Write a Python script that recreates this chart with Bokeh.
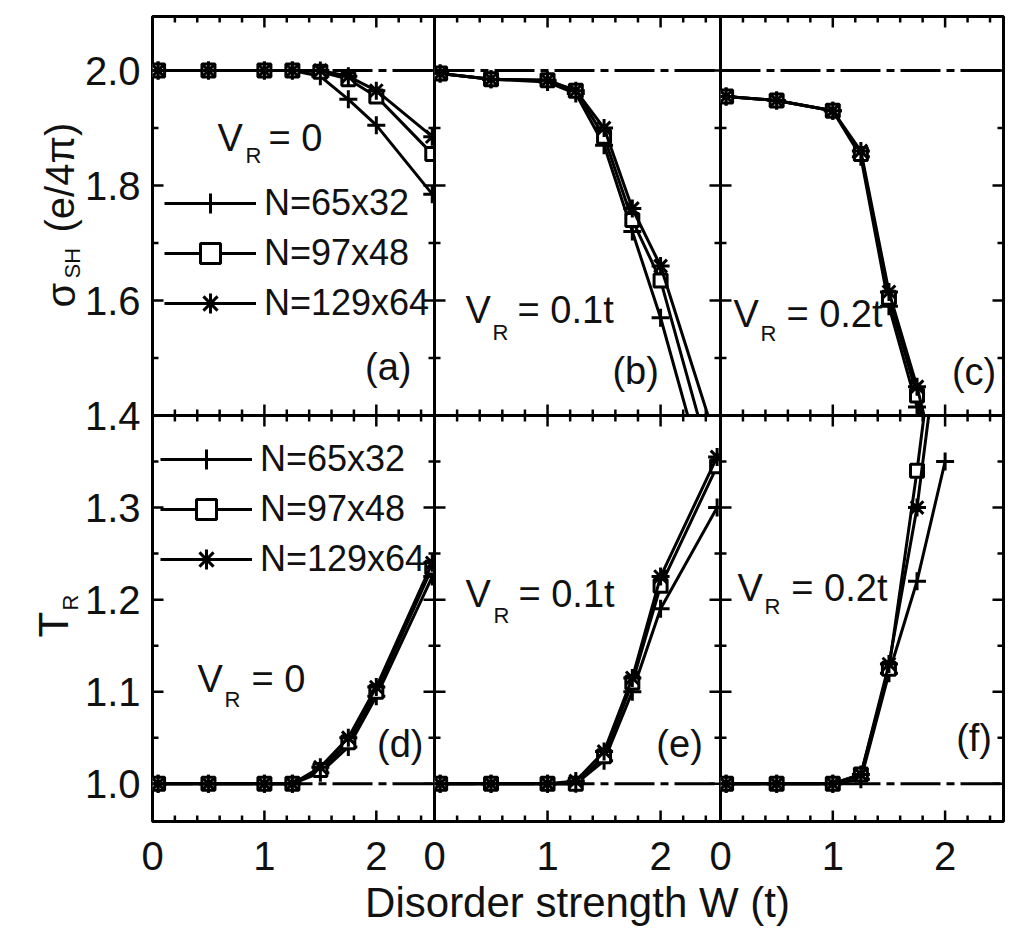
import math
from bokeh.plotting import figure
from bokeh.models import (Range1d, LinearAxis, FixedTicker, NumeralTickFormatter,
                          Span, Label, Legend, LegendItem)
from bokeh.layouts import column
from bokeh.embed import file_html
from bokeh.resources import INLINE

FONT = "Liberation Sans"
TXT_COLOR = "#111111"

# ---------------- data ----------------
W = [0.05, 0.5, 1.0, 1.25, 1.5, 1.75, 2.0, 2.5]
W_short = [0.05, 0.5, 1.0, 1.25, 1.5, 1.75, 2.0]
series_labels = ["N=65x32", "N=97x48", "N=129x64"]

# sigma_SH (e/4pi)
sig_a_65 = [2.0, 2.0, 2.0, 2.0, 1.99, 1.95, 1.905, 1.785]
sig_a_97 = [2.0, 2.0, 2.0, 2.0, 1.998, 1.985, 1.955, 1.855]
sig_a_129 = [2.0, 2.0, 2.0, 2.0, 2.0, 1.99, 1.965, 1.885]

sig_b_65 = [1.995, 1.985, 1.98, 1.96, 1.87, 1.72, 1.57, 1.216]
sig_b_97 = [1.995, 1.985, 1.983, 1.965, 1.885, 1.74, 1.635, 1.28]
sig_b_129 = [1.995, 1.985, 1.983, 1.965, 1.90, 1.76, 1.66, 1.35]

sig_c_65 = [1.955, 1.948, 1.93, 1.85, 1.59, 1.415, 1.20]
sig_c_97 = [1.955, 1.948, 1.93, 1.855, 1.605, 1.435, 1.22]
sig_c_129 = [1.955, 1.948, 1.93, 1.86, 1.615, 1.45, 1.25]

# T_R
T_d_65 = [1.0, 1.0, 1.0, 1.0, 1.012, 1.04, 1.095, 1.225]
T_d_97 = [1.0, 1.0, 1.0, 1.0, 1.015, 1.045, 1.10, 1.235]
T_d_129 = [1.0, 1.0, 1.0, 1.0, 1.018, 1.05, 1.105, 1.24]

T_e_65 = [1.0, 1.0, 1.0, 1.0, 1.025, 1.10, 1.19, 1.30]
T_e_97 = [1.0, 1.0, 1.0, 1.0, 1.03, 1.11, 1.215, 1.345]
T_e_129 = [1.0, 1.0, 1.0, 1.003, 1.035, 1.115, 1.225, 1.355]

T_f_65 = [1.0, 1.0, 1.0, 1.005, 1.12, 1.22, 1.35]
T_f_97 = [1.0, 1.0, 1.0, 1.01, 1.125, 1.34, 1.58]
T_f_129 = [1.0, 1.0, 1.0, 1.01, 1.13, 1.30, 1.54]

X_TICKS = [0, 1, 2]
X_MINOR = [0.2, 0.4, 0.6, 0.8, 1.2, 1.4, 1.6, 1.8, 2.2, 2.4]
SIG_TICKS = [1.4, 1.6, 1.8, 2.0]
SIG_MINOR = [1.5, 1.7, 1.9]
T_TICKS = [1.0, 1.1, 1.2, 1.3]
T_MINOR = [1.05, 1.15, 1.25, 1.35]

# ---------------- layout geometry (canvas px) ----------------
CW, CH = 1016, 933
COLS = [(152, 434, 2.52), (434, 720, 2.53), (720, 1003, 2.52)]
ROWS = [(16, 415, 1.4, 2.094), (415, 821, 0.959, 1.4)]
MAJ, MIN = 11, 6


def label_axis(ticks, fmt, standoff):
    # axis used for its tick labels; the inward tick marks are drawn as segments
    return LinearAxis(ticker=FixedTicker(ticks=ticks), formatter=NumeralTickFormatter(format=fmt),
                      major_tick_in=0, major_tick_out=0, minor_tick_in=0, minor_tick_out=0,
                      axis_line_color=None, major_label_text_font=FONT,
                      major_label_text_font_size="40px", major_label_standoff=standoff,
                      major_label_text_color=TXT_COLOR)


figs = []


def base_fig(**kw):
    if figs:
        kw["margin"] = (-CH, 0, 0, 0)
    f = figure(width=CW, height=CH, output_backend="svg", toolbar_location=None,
               x_axis_type=None, y_axis_type=None, frame_align=False,
               background_fill_color=None, border_fill_color=None, **kw)
    figs.append(f)
    return f


def inward_ticks(p, L, R, T, B, xe, y0, y1, yt, ym):
    ux = xe / (R - L)          # data units per pixel, x
    uy = (y1 - y0) / (B - T)   # data units per pixel, y
    for xs, ln in ((X_TICKS, MAJ), (X_MINOR, MIN)):
        n = len(xs)
        p.segment(x0=xs, y0=[y0] * n, x1=xs, y1=[y0 + ln * uy] * n,
                  line_color="black", line_width=2.5)
        p.segment(x0=xs, y0=[y1] * n, x1=xs, y1=[y1 - ln * uy] * n,
                  line_color="black", line_width=2.5)
    for ys, ln in ((yt, MAJ), (ym, MIN)):
        n = len(ys)
        p.segment(x0=[0] * n, y0=ys, x1=[ln * ux] * n, y1=ys,
                  line_color="black", line_width=2.5)
        p.segment(x0=[xe] * n, y0=ys, x1=[xe - ln * ux] * n, y1=ys,
                  line_color="black", line_width=2.5)


def make_panel(ci, ri):
    L, R, xe = COLS[ci]
    T, B, y0, y1 = ROWS[ri]
    p = base_fig(x_range=Range1d(0, xe), y_range=Range1d(y0, y1),
                 min_border_left=L, min_border_right=CW - R,
                 min_border_top=T, min_border_bottom=CH - B,
                 outline_line_color="black", outline_line_width=3)
    yt, ym = (SIG_TICKS, SIG_MINOR) if ri == 0 else (T_TICKS, T_MINOR)
    if ri == 1:
        p.add_layout(label_axis(X_TICKS, "0", 20), "below")
    if ci == 0:
        p.add_layout(label_axis(yt, "0.0", 12), "left")
    inward_ticks(p, L, R, T, B, xe, y0, y1, yt, ym)
    ref = 2.0 if ri == 0 else 1.0
    p.add_layout(Span(location=ref, dimension="width", line_color="black",
                      line_width=3, line_dash="40 6 8 6"))
    return p


MARKERS = [("cross", 18, "black"), ("square", 13, "white"), ("asterisk", 18, "black")]


def add_series(p, xs, ys_list):
    rends = []
    for ys, (mk, sz, fc) in zip(ys_list, MARKERS):
        ln = p.line(xs, ys, line_color="black", line_width=3)
        sc = p.scatter(xs, ys, marker=mk, size=sz, line_color="black",
                       fill_color=fc, line_width=3)
        rends.append((ln, sc))
    return rends


def add_legend(p, rends, loc):
    items = [LegendItem(label=lab, renderers=[ln, sc])
             for lab, (ln, sc) in zip(series_labels, rends)]
    lg = Legend(items=items, location=loc, border_line_color=None,
                background_fill_alpha=0, label_text_font=FONT,
                label_text_font_size="36px", label_text_color=TXT_COLOR,
                glyph_width=92, glyph_height=50, label_height=50,
                label_standoff=8, spacing=0, padding=0, margin=0)
    p.add_layout(lg)


def txt(p, x, y, s, size="38px", angle=0.0, align="left", baseline="alphabetic"):
    p.add_layout(Label(x=x, y=y, text=s, text_font=FONT, text_font_size=size,
                       text_color=TXT_COLOR, angle=angle, text_align=align,
                       text_baseline=baseline))


def vr(p, xv, yv, xr, yr, xrest, rest):
    txt(p, xv, yv, "V")
    txt(p, xr, yr, "R", size="22px")
    txt(p, xrest, yv, rest)


# ---------------- panels ----------------
pa = make_panel(0, 0)
ra = add_series(pa, W, [sig_a_65, sig_a_97, sig_a_129])
add_legend(pa, ra, (12, 87))
vr(pa, 0.58, 1.883, 0.83, 1.852, 1.036, "= 0")
txt(pa, 2.107, 1.485, "(a)", size="38px", align="center", baseline="middle")

pb = make_panel(1, 0)
add_series(pb, W, [sig_b_65, sig_b_97, sig_b_129])
vr(pb, 0.274, 1.583, 0.513, 1.544, 0.735, "= 0.1t")
txt(pb, 1.779, 1.478, "(b)", size="38px", align="center", baseline="middle")

pc = make_panel(2, 0)
add_series(pc, W_short, [sig_c_65, sig_c_97, sig_c_129])
vr(pc, 0.116, 1.577, 0.356, 1.543, 0.587, "= 0.2t")
txt(pc, 2.258, 1.476, "(c)", size="38px", align="center", baseline="middle")

pd = make_panel(0, 1)
rd = add_series(pd, W, [T_d_65, T_d_97, T_d_129])
add_legend(pd, rd, (8, 237))
vr(pd, 0.402, 1.114, 0.643, 1.091, 0.884, "= 0")
txt(pd, 2.214, 1.0435, "(d)", size="38px", align="center", baseline="middle")

pe = make_panel(1, 1)
add_series(pe, W, [T_e_65, T_e_97, T_e_129])
vr(pe, 0.274, 1.2065, 0.522, 1.183, 0.743, "= 0.1t")
txt(pe, 2.168, 1.0435, "(e)", size="38px", align="center", baseline="middle")
xb = pe.below[0]
xb.axis_label = "Disorder strength W (t)"
xb.axis_label_text_font = FONT
xb.axis_label_text_font_size = "42px"
xb.axis_label_text_font_style = "normal"
xb.axis_label_text_color = TXT_COLOR
xb.axis_label_standoff = 6

pf = make_panel(2, 1)
add_series(pf, W_short, [T_f_65, T_f_97, T_f_129])
vr(pf, 0.151, 1.213, 0.391, 1.192, 0.631, "= 0.2t")
txt(pf, 2.258, 1.05, "(f)", size="38px", align="center", baseline="middle")

# overlay figure in pixel coordinates (y downwards) for the rotated y-axis titles
pl = base_fig(x_range=Range1d(0, CW), y_range=Range1d(CH, 0),
              min_border_left=0, min_border_right=0, min_border_top=0,
              min_border_bottom=0, outline_line_color=None)
txt(pl, 60, 307, "σ", size="40px", angle=math.pi / 2)
txt(pl, 72, 278, "SH", size="22px", angle=math.pi / 2)
txt(pl, 59, 232, "(e/4π)", size="40px", angle=math.pi / 2)
txt(pl, 53, 637, "T", size="42px", angle=math.pi / 2)
txt(pl, 70, 610, "R", size="22px", angle=math.pi / 2)

layout = column(*figs, spacing=0)

with open("out.html", "w") as fh:
    fh.write(file_html(layout, INLINE))
